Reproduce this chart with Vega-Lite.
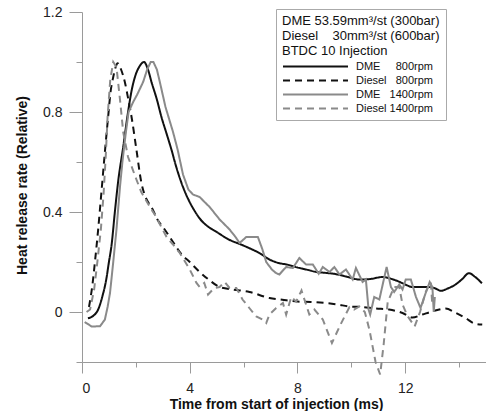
{
  "$schema": "https://vega.github.io/schema/vega-lite/v6.json",
  "width": 404,
  "height": 350,
  "autosize": "none",
  "padding": {"left": 82, "top": 12, "right": 0, "bottom": 49},
  "background": "white",
  "config": {
    "view": {"stroke": null},
    "font": "Liberation Sans"
  },
  "data": {
    "values": [
      {"t": 0.22, "v": -0.025, "s": "DME 800rpm"},
      {"t": 0.42, "v": -0.015, "s": "DME 800rpm"},
      {"t": 0.6, "v": 0.01, "s": "DME 800rpm"},
      {"t": 0.75, "v": 0.06, "s": "DME 800rpm"},
      {"t": 0.9, "v": 0.13, "s": "DME 800rpm"},
      {"t": 1.0, "v": 0.2, "s": "DME 800rpm"},
      {"t": 1.1, "v": 0.27, "s": "DME 800rpm"},
      {"t": 1.22, "v": 0.4, "s": "DME 800rpm"},
      {"t": 1.34, "v": 0.52, "s": "DME 800rpm"},
      {"t": 1.53, "v": 0.66, "s": "DME 800rpm"},
      {"t": 1.71, "v": 0.8, "s": "DME 800rpm"},
      {"t": 1.85, "v": 0.89, "s": "DME 800rpm"},
      {"t": 1.98, "v": 0.945, "s": "DME 800rpm"},
      {"t": 2.15, "v": 0.985, "s": "DME 800rpm"},
      {"t": 2.3, "v": 1.0, "s": "DME 800rpm"},
      {"t": 2.45, "v": 0.97, "s": "DME 800rpm"},
      {"t": 2.58, "v": 0.92, "s": "DME 800rpm"},
      {"t": 2.78, "v": 0.85, "s": "DME 800rpm"},
      {"t": 2.95, "v": 0.78, "s": "DME 800rpm"},
      {"t": 3.15, "v": 0.71, "s": "DME 800rpm"},
      {"t": 3.32, "v": 0.65, "s": "DME 800rpm"},
      {"t": 3.5, "v": 0.58, "s": "DME 800rpm"},
      {"t": 3.75, "v": 0.5, "s": "DME 800rpm"},
      {"t": 3.95, "v": 0.45, "s": "DME 800rpm"},
      {"t": 4.15, "v": 0.41, "s": "DME 800rpm"},
      {"t": 4.4, "v": 0.37, "s": "DME 800rpm"},
      {"t": 4.7, "v": 0.34, "s": "DME 800rpm"},
      {"t": 5.0, "v": 0.32, "s": "DME 800rpm"},
      {"t": 5.45, "v": 0.29, "s": "DME 800rpm"},
      {"t": 5.9, "v": 0.27, "s": "DME 800rpm"},
      {"t": 6.22, "v": 0.255, "s": "DME 800rpm"},
      {"t": 6.6, "v": 0.235, "s": "DME 800rpm"},
      {"t": 6.96, "v": 0.21, "s": "DME 800rpm"},
      {"t": 7.3, "v": 0.196, "s": "DME 800rpm"},
      {"t": 7.6, "v": 0.19, "s": "DME 800rpm"},
      {"t": 8.0, "v": 0.178, "s": "DME 800rpm"},
      {"t": 8.4, "v": 0.168, "s": "DME 800rpm"},
      {"t": 8.7, "v": 0.16, "s": "DME 800rpm"},
      {"t": 9.0, "v": 0.157, "s": "DME 800rpm"},
      {"t": 9.4, "v": 0.152, "s": "DME 800rpm"},
      {"t": 9.8, "v": 0.142, "s": "DME 800rpm"},
      {"t": 10.3, "v": 0.13, "s": "DME 800rpm"},
      {"t": 10.7, "v": 0.132, "s": "DME 800rpm"},
      {"t": 11.16, "v": 0.14, "s": "DME 800rpm"},
      {"t": 11.5, "v": 0.132, "s": "DME 800rpm"},
      {"t": 11.8, "v": 0.12, "s": "DME 800rpm"},
      {"t": 12.0, "v": 0.11, "s": "DME 800rpm"},
      {"t": 12.27, "v": 0.1, "s": "DME 800rpm"},
      {"t": 12.6, "v": 0.1, "s": "DME 800rpm"},
      {"t": 12.9, "v": 0.1, "s": "DME 800rpm"},
      {"t": 13.1, "v": 0.095, "s": "DME 800rpm"},
      {"t": 13.32, "v": 0.085, "s": "DME 800rpm"},
      {"t": 13.6, "v": 0.095, "s": "DME 800rpm"},
      {"t": 13.87, "v": 0.11, "s": "DME 800rpm"},
      {"t": 14.1, "v": 0.13, "s": "DME 800rpm"},
      {"t": 14.37, "v": 0.155, "s": "DME 800rpm"},
      {"t": 14.6, "v": 0.14, "s": "DME 800rpm"},
      {"t": 14.85, "v": 0.115, "s": "DME 800rpm"},

      {"t": 0.26, "v": 0.02, "s": "Diesel 800rpm"},
      {"t": 0.4, "v": 0.12, "s": "Diesel 800rpm"},
      {"t": 0.48, "v": 0.2, "s": "Diesel 800rpm"},
      {"t": 0.6, "v": 0.33, "s": "Diesel 800rpm"},
      {"t": 0.73, "v": 0.49, "s": "Diesel 800rpm"},
      {"t": 0.85, "v": 0.64, "s": "Diesel 800rpm"},
      {"t": 0.97, "v": 0.78, "s": "Diesel 800rpm"},
      {"t": 1.06, "v": 0.88, "s": "Diesel 800rpm"},
      {"t": 1.16, "v": 0.94, "s": "Diesel 800rpm"},
      {"t": 1.25, "v": 0.98, "s": "Diesel 800rpm"},
      {"t": 1.32, "v": 0.995, "s": "Diesel 800rpm"},
      {"t": 1.45, "v": 0.97, "s": "Diesel 800rpm"},
      {"t": 1.59, "v": 0.92, "s": "Diesel 800rpm"},
      {"t": 1.72, "v": 0.85, "s": "Diesel 800rpm"},
      {"t": 1.84, "v": 0.78, "s": "Diesel 800rpm"},
      {"t": 2.02, "v": 0.65, "s": "Diesel 800rpm"},
      {"t": 2.2, "v": 0.52, "s": "Diesel 800rpm"},
      {"t": 2.4, "v": 0.45, "s": "Diesel 800rpm"},
      {"t": 2.58, "v": 0.42, "s": "Diesel 800rpm"},
      {"t": 2.8, "v": 0.37, "s": "Diesel 800rpm"},
      {"t": 3.07, "v": 0.33, "s": "Diesel 800rpm"},
      {"t": 3.38, "v": 0.28, "s": "Diesel 800rpm"},
      {"t": 3.7, "v": 0.23, "s": "Diesel 800rpm"},
      {"t": 4.0, "v": 0.2, "s": "Diesel 800rpm"},
      {"t": 4.37, "v": 0.16, "s": "Diesel 800rpm"},
      {"t": 4.7, "v": 0.13, "s": "Diesel 800rpm"},
      {"t": 5.11, "v": 0.1, "s": "Diesel 800rpm"},
      {"t": 5.6, "v": 0.09, "s": "Diesel 800rpm"},
      {"t": 6.22, "v": 0.08, "s": "Diesel 800rpm"},
      {"t": 6.96, "v": 0.056, "s": "Diesel 800rpm"},
      {"t": 7.5, "v": 0.048, "s": "Diesel 800rpm"},
      {"t": 8.0, "v": 0.042, "s": "Diesel 800rpm"},
      {"t": 8.5, "v": 0.04, "s": "Diesel 800rpm"},
      {"t": 9.06, "v": 0.036, "s": "Diesel 800rpm"},
      {"t": 9.5, "v": 0.03, "s": "Diesel 800rpm"},
      {"t": 9.93, "v": 0.022, "s": "Diesel 800rpm"},
      {"t": 10.4, "v": 0.02, "s": "Diesel 800rpm"},
      {"t": 10.9, "v": 0.014, "s": "Diesel 800rpm"},
      {"t": 11.4, "v": 0.01, "s": "Diesel 800rpm"},
      {"t": 11.9, "v": -0.004, "s": "Diesel 800rpm"},
      {"t": 12.27, "v": -0.022, "s": "Diesel 800rpm"},
      {"t": 12.64, "v": -0.01, "s": "Diesel 800rpm"},
      {"t": 13.0, "v": 0.002, "s": "Diesel 800rpm"},
      {"t": 13.5, "v": 0.014, "s": "Diesel 800rpm"},
      {"t": 13.85, "v": -0.002, "s": "Diesel 800rpm"},
      {"t": 14.24, "v": -0.024, "s": "Diesel 800rpm"},
      {"t": 14.6, "v": -0.047, "s": "Diesel 800rpm"},
      {"t": 14.86, "v": -0.05, "s": "Diesel 800rpm"},

      {"t": 0.1, "v": -0.04, "s": "DME 1400rpm"},
      {"t": 0.36, "v": -0.058, "s": "DME 1400rpm"},
      {"t": 0.67, "v": -0.057, "s": "DME 1400rpm"},
      {"t": 0.85, "v": -0.03, "s": "DME 1400rpm"},
      {"t": 0.95, "v": 0.02, "s": "DME 1400rpm"},
      {"t": 1.04, "v": 0.076, "s": "DME 1400rpm"},
      {"t": 1.16, "v": 0.2, "s": "DME 1400rpm"},
      {"t": 1.28, "v": 0.33, "s": "DME 1400rpm"},
      {"t": 1.41, "v": 0.5, "s": "DME 1400rpm"},
      {"t": 1.5, "v": 0.6, "s": "DME 1400rpm"},
      {"t": 1.63, "v": 0.72, "s": "DME 1400rpm"},
      {"t": 1.73, "v": 0.8, "s": "DME 1400rpm"},
      {"t": 1.9, "v": 0.84, "s": "DME 1400rpm"},
      {"t": 2.05, "v": 0.87, "s": "DME 1400rpm"},
      {"t": 2.27, "v": 0.92, "s": "DME 1400rpm"},
      {"t": 2.42, "v": 0.97, "s": "DME 1400rpm"},
      {"t": 2.55, "v": 1.0, "s": "DME 1400rpm"},
      {"t": 2.65, "v": 1.0, "s": "DME 1400rpm"},
      {"t": 2.78, "v": 0.97, "s": "DME 1400rpm"},
      {"t": 2.89, "v": 0.92, "s": "DME 1400rpm"},
      {"t": 3.1, "v": 0.82, "s": "DME 1400rpm"},
      {"t": 3.38, "v": 0.72, "s": "DME 1400rpm"},
      {"t": 3.55, "v": 0.65, "s": "DME 1400rpm"},
      {"t": 3.75, "v": 0.55, "s": "DME 1400rpm"},
      {"t": 3.95, "v": 0.49, "s": "DME 1400rpm"},
      {"t": 4.12, "v": 0.47, "s": "DME 1400rpm"},
      {"t": 4.37, "v": 0.46, "s": "DME 1400rpm"},
      {"t": 4.55, "v": 0.44, "s": "DME 1400rpm"},
      {"t": 4.74, "v": 0.42, "s": "DME 1400rpm"},
      {"t": 5.11, "v": 0.37, "s": "DME 1400rpm"},
      {"t": 5.48, "v": 0.33, "s": "DME 1400rpm"},
      {"t": 5.7, "v": 0.3, "s": "DME 1400rpm"},
      {"t": 5.85, "v": 0.276, "s": "DME 1400rpm"},
      {"t": 6.1, "v": 0.3, "s": "DME 1400rpm"},
      {"t": 6.35, "v": 0.3, "s": "DME 1400rpm"},
      {"t": 6.53, "v": 0.3, "s": "DME 1400rpm"},
      {"t": 6.7, "v": 0.25, "s": "DME 1400rpm"},
      {"t": 6.84, "v": 0.2, "s": "DME 1400rpm"},
      {"t": 7.05, "v": 0.17, "s": "DME 1400rpm"},
      {"t": 7.2, "v": 0.156, "s": "DME 1400rpm"},
      {"t": 7.33, "v": 0.15, "s": "DME 1400rpm"},
      {"t": 7.45, "v": 0.165, "s": "DME 1400rpm"},
      {"t": 7.58, "v": 0.18, "s": "DME 1400rpm"},
      {"t": 7.83, "v": 0.176, "s": "DME 1400rpm"},
      {"t": 8.07, "v": 0.216, "s": "DME 1400rpm"},
      {"t": 8.32, "v": 0.19, "s": "DME 1400rpm"},
      {"t": 8.57, "v": 0.19, "s": "DME 1400rpm"},
      {"t": 8.79, "v": 0.153, "s": "DME 1400rpm"},
      {"t": 8.94, "v": 0.18, "s": "DME 1400rpm"},
      {"t": 9.19, "v": 0.16, "s": "DME 1400rpm"},
      {"t": 9.37, "v": 0.18, "s": "DME 1400rpm"},
      {"t": 9.56, "v": 0.15, "s": "DME 1400rpm"},
      {"t": 9.8, "v": 0.17, "s": "DME 1400rpm"},
      {"t": 10.05, "v": 0.13, "s": "DME 1400rpm"},
      {"t": 10.17, "v": 0.176, "s": "DME 1400rpm"},
      {"t": 10.42, "v": 0.12, "s": "DME 1400rpm"},
      {"t": 10.54, "v": 0.13, "s": "DME 1400rpm"},
      {"t": 10.64, "v": 0.01, "s": "DME 1400rpm"},
      {"t": 10.7, "v": -0.01, "s": "DME 1400rpm"},
      {"t": 10.85, "v": 0.06, "s": "DME 1400rpm"},
      {"t": 11.04, "v": 0.05, "s": "DME 1400rpm"},
      {"t": 11.31, "v": 0.18, "s": "DME 1400rpm"},
      {"t": 11.47, "v": 0.1, "s": "DME 1400rpm"},
      {"t": 11.59, "v": 0.08, "s": "DME 1400rpm"},
      {"t": 11.78, "v": 0.11, "s": "DME 1400rpm"},
      {"t": 11.9, "v": 0.09, "s": "DME 1400rpm"},
      {"t": 12.02, "v": 0.13, "s": "DME 1400rpm"},
      {"t": 12.21, "v": 0.13, "s": "DME 1400rpm"},
      {"t": 12.4, "v": 0.06, "s": "DME 1400rpm"},
      {"t": 12.57, "v": 0.016, "s": "DME 1400rpm"},
      {"t": 12.76, "v": 0.076, "s": "DME 1400rpm"},
      {"t": 12.91, "v": 0.12, "s": "DME 1400rpm"},
      {"t": 13.01, "v": 0.1, "s": "DME 1400rpm"},
      {"t": 13.06, "v": 0.0, "s": "DME 1400rpm"},
      {"t": 13.1, "v": 0.06, "s": "DME 1400rpm"},

      {"t": 0.17, "v": 0.0, "s": "Diesel 1400rpm"},
      {"t": 0.3, "v": 0.01, "s": "Diesel 1400rpm"},
      {"t": 0.45, "v": 0.09, "s": "Diesel 1400rpm"},
      {"t": 0.57, "v": 0.2, "s": "Diesel 1400rpm"},
      {"t": 0.7, "v": 0.33, "s": "Diesel 1400rpm"},
      {"t": 0.8, "v": 0.47, "s": "Diesel 1400rpm"},
      {"t": 0.88, "v": 0.62, "s": "Diesel 1400rpm"},
      {"t": 0.95, "v": 0.78, "s": "Diesel 1400rpm"},
      {"t": 1.05, "v": 0.93, "s": "Diesel 1400rpm"},
      {"t": 1.16, "v": 1.0, "s": "Diesel 1400rpm"},
      {"t": 1.28, "v": 0.98, "s": "Diesel 1400rpm"},
      {"t": 1.41, "v": 0.85, "s": "Diesel 1400rpm"},
      {"t": 1.53, "v": 0.72, "s": "Diesel 1400rpm"},
      {"t": 1.71, "v": 0.62, "s": "Diesel 1400rpm"},
      {"t": 2.02, "v": 0.53, "s": "Diesel 1400rpm"},
      {"t": 2.2, "v": 0.48, "s": "Diesel 1400rpm"},
      {"t": 2.52, "v": 0.42, "s": "Diesel 1400rpm"},
      {"t": 2.7, "v": 0.39, "s": "Diesel 1400rpm"},
      {"t": 3.14, "v": 0.3, "s": "Diesel 1400rpm"},
      {"t": 3.38, "v": 0.27, "s": "Diesel 1400rpm"},
      {"t": 3.63, "v": 0.236, "s": "Diesel 1400rpm"},
      {"t": 4.0, "v": 0.17, "s": "Diesel 1400rpm"},
      {"t": 4.25, "v": 0.116, "s": "Diesel 1400rpm"},
      {"t": 4.37, "v": 0.1, "s": "Diesel 1400rpm"},
      {"t": 4.54, "v": 0.116, "s": "Diesel 1400rpm"},
      {"t": 4.68, "v": 0.07, "s": "Diesel 1400rpm"},
      {"t": 4.91, "v": 0.096, "s": "Diesel 1400rpm"},
      {"t": 5.11, "v": 0.1, "s": "Diesel 1400rpm"},
      {"t": 5.3, "v": 0.12, "s": "Diesel 1400rpm"},
      {"t": 5.48, "v": 0.096, "s": "Diesel 1400rpm"},
      {"t": 5.73, "v": 0.096, "s": "Diesel 1400rpm"},
      {"t": 5.96, "v": 0.05, "s": "Diesel 1400rpm"},
      {"t": 6.22, "v": 0.015, "s": "Diesel 1400rpm"},
      {"t": 6.47, "v": -0.018, "s": "Diesel 1400rpm"},
      {"t": 6.7, "v": -0.03, "s": "Diesel 1400rpm"},
      {"t": 6.84, "v": -0.044, "s": "Diesel 1400rpm"},
      {"t": 6.96, "v": -0.01, "s": "Diesel 1400rpm"},
      {"t": 7.21, "v": 0.016, "s": "Diesel 1400rpm"},
      {"t": 7.46, "v": 0.036, "s": "Diesel 1400rpm"},
      {"t": 7.58, "v": -0.01, "s": "Diesel 1400rpm"},
      {"t": 7.77, "v": 0.06, "s": "Diesel 1400rpm"},
      {"t": 7.95, "v": 0.042, "s": "Diesel 1400rpm"},
      {"t": 8.15, "v": 0.086, "s": "Diesel 1400rpm"},
      {"t": 8.44, "v": -0.01, "s": "Diesel 1400rpm"},
      {"t": 8.63, "v": 0.01, "s": "Diesel 1400rpm"},
      {"t": 8.94, "v": -0.03, "s": "Diesel 1400rpm"},
      {"t": 9.28, "v": -0.124, "s": "Diesel 1400rpm"},
      {"t": 9.6, "v": -0.05, "s": "Diesel 1400rpm"},
      {"t": 9.93, "v": 0.02, "s": "Diesel 1400rpm"},
      {"t": 10.1, "v": 0.01, "s": "Diesel 1400rpm"},
      {"t": 10.3, "v": 0.022, "s": "Diesel 1400rpm"},
      {"t": 10.5, "v": 0.0, "s": "Diesel 1400rpm"},
      {"t": 10.67, "v": -0.07, "s": "Diesel 1400rpm"},
      {"t": 10.9, "v": -0.2, "s": "Diesel 1400rpm"},
      {"t": 11.07, "v": -0.25, "s": "Diesel 1400rpm"},
      {"t": 11.2, "v": -0.13, "s": "Diesel 1400rpm"},
      {"t": 11.35, "v": 0.04, "s": "Diesel 1400rpm"},
      {"t": 11.59, "v": 0.1, "s": "Diesel 1400rpm"},
      {"t": 11.78, "v": 0.1, "s": "Diesel 1400rpm"},
      {"t": 11.9, "v": 0.03, "s": "Diesel 1400rpm"},
      {"t": 12.08, "v": -0.015, "s": "Diesel 1400rpm"},
      {"t": 12.35, "v": -0.058, "s": "Diesel 1400rpm"},
      {"t": 12.55, "v": 0.0, "s": "Diesel 1400rpm"},
      {"t": 12.76, "v": 0.08, "s": "Diesel 1400rpm"},
      {"t": 12.95, "v": 0.12, "s": "Diesel 1400rpm"},
      {"t": 13.0, "v": 0.04, "s": "Diesel 1400rpm"}
    ]
  },
  "encoding": {
    "x": {
      "field": "t",
      "type": "quantitative",
      "scale": {"domain": [0, 15], "nice": false, "zero": false},
      "axis": {
        "title": "Time from start of injection (ms)",
        "values": [0, 2, 4, 6, 8, 10, 12, 14],
        "labelExpr": "datum.value % 4 === 0 ? datum.label : ''",
        "tickSize": {"condition": {"test": "datum.value % 4 === 0", "value": 11}, "value": 5},
        "grid": false,
        "domainColor": "#9a9a9a",
        "tickColor": "#9a9a9a",
        "labelFont": "Liberation Sans",
        "labelFontSize": 14,
        "labelColor": "#222",
        "labelPadding": 8,
        "titleFont": "Liberation Sans",
        "titleFontSize": 14,
        "titleFontWeight": "bold",
        "titleColor": "#111",
        "titleX": 194,
        "titlePadding": 2
      }
    },
    "y": {
      "field": "v",
      "type": "quantitative",
      "scale": {"domain": [-0.2, 1.2], "nice": false, "zero": false},
      "axis": {
        "title": "Heat release rate (Relative)",
        "values": [-0.2, 0, 0.2, 0.4, 0.6, 0.8, 1.0, 1.2],
        "format": ".1~f",
        "labelExpr": "abs(round(datum.value * 10)) % 4 === 0 ? datum.label : ''",
        "tickSize": {"condition": {"test": "abs(round(datum.value * 10)) % 4 === 0", "value": 13}, "value": 6},
        "grid": false,
        "domainColor": "#9a9a9a",
        "tickColor": "#9a9a9a",
        "labelFont": "Liberation Sans",
        "labelFontSize": 14,
        "labelColor": "#222",
        "labelPadding": 7,
        "titleFont": "Liberation Sans",
        "titleFontSize": 14,
        "titleFontWeight": "bold",
        "titleColor": "#111",
        "titleBaseline": "alphabetic",
        "titleX": -56,
        "titleY": 173
      }
    },
    "color": {
      "field": "s",
      "type": "nominal",
      "scale": {
        "domain": ["DME 800rpm", "Diesel 800rpm", "DME 1400rpm", "Diesel 1400rpm"],
        "range": ["#111111", "#111111", "#8a8a8a", "#8a8a8a"]
      },
      "legend": {
        "orient": "none",
        "legendX": 194,
        "legendY": -3,
        "title": ["DME 53.59mm³/st (300bar)", "Diesel\u00a0\u00a0\u00a0\u00a030mm³/st (600bar)", "BTDC 10 Injection"],
        "titleFont": "Liberation Sans",
        "titleFontSize": 13,
        "titleFontWeight": "normal",
        "titleColor": "#111",
        "titleLineHeight": 15,
        "titlePadding": 1,
        "labelFont": "Liberation Sans",
        "labelFontSize": 11,
        "labelColor": "#111",
        "labelOffset": 59,
        "labelExpr": "datum.label == 'DME 800rpm' ? 'DME\u00a0\u00a0\u00a0\u00a0\u00a0800rpm' : datum.label == 'Diesel 800rpm' ? 'Diesel\u00a0\u00a0\u00a0800rpm' : datum.label == 'DME 1400rpm' ? 'DME\u00a0\u00a0\u00a01400rpm' : datum.label",
        "symbolType": "M-1,0H9",
        "symbolSize": 169,
        "symbolStrokeWidth": 2,
        "rowPadding": 1,
        "padding": 6,
        "strokeColor": "#aaaaaa",
        "fillColor": "white"
      }
    },
    "strokeDash": {
      "field": "s",
      "type": "nominal",
      "scale": {
        "domain": ["DME 800rpm", "Diesel 800rpm", "DME 1400rpm", "Diesel 1400rpm"],
        "range": [[1, 0], [7, 5], [1, 0], [7, 5]]
      },
      "legend": {
        "orient": "none",
        "legendX": 194,
        "legendY": -3,
        "title": ["DME 53.59mm³/st (300bar)", "Diesel\u00a0\u00a0\u00a0\u00a030mm³/st (600bar)", "BTDC 10 Injection"],
        "symbolType": "M-1,0H9",
        "symbolSize": 169,
        "symbolStrokeWidth": 2
      }
    }
  },
  "layer": [
    {
      "transform": [{"filter": {"field": "s", "oneOf": ["DME 800rpm", "Diesel 800rpm"]}}],
      "mark": {"type": "line", "interpolate": "monotone", "strokeWidth": 2}
    },
    {
      "transform": [{"filter": {"field": "s", "oneOf": ["DME 1400rpm", "Diesel 1400rpm"]}}],
      "mark": {"type": "line", "interpolate": "linear", "strokeWidth": 2}
    }
  ]
}
